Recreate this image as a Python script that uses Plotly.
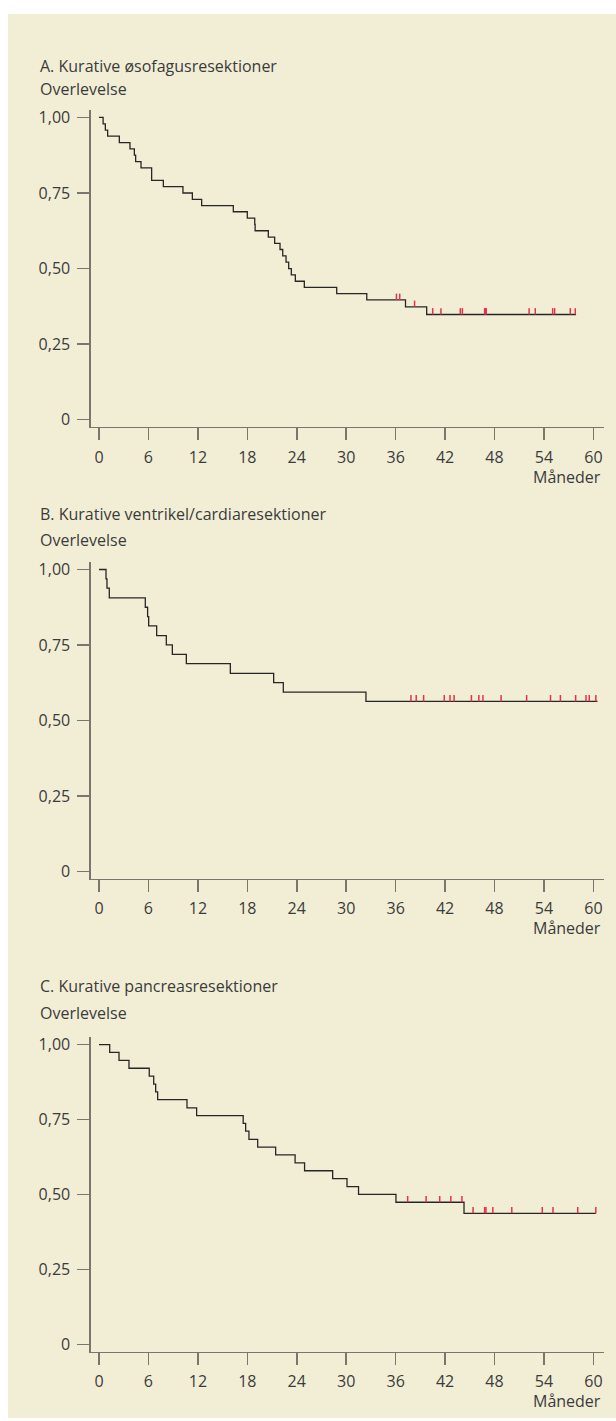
import numpy as np
import plotly.graph_objects as go

W, H = 616, 1421

titles = ["A. Kurative øsofagusresektioner",
          "B. Kurative ventrikel/cardiaresektioner",
          "C. Kurative pancreasresektioner"]
y_label = "Overlevelse"
x_label = "Måneder"
x_tickvals = [0, 6, 12, 18, 24, 30, 36, 42, 48, 54, 60]
y_tickvals = [0, 0.25, 0.5, 0.75, 1.0]
y_ticktext = ["0", "0,25", "0,50", "0,75", "1,00"]

# Panel A
a_time = [0, 0.5, 0.77, 1.05, 2.47, 3.76, 4.29, 4.45, 5.10, 6.39, 7.81, 10.19, 11.33,
          12.46, 16.30, 18.0, 18.9, 18.95, 20.55, 21.32, 21.97, 22.3, 22.7, 23.02, 23.34,
          23.83, 24.92, 28.85, 32.5, 37.2, 39.77, 57.9]
a_surv = [1.0, 0.979, 0.958, 0.938, 0.917, 0.896, 0.875, 0.854, 0.833, 0.792, 0.771, 0.75,
          0.729, 0.708, 0.688, 0.667, 0.646, 0.625, 0.604, 0.583, 0.563, 0.542, 0.521, 0.5,
          0.479, 0.458, 0.438, 0.417, 0.396, 0.373, 0.348, 0.348]
a_cens = [36.1, 36.5, 38.3, 40.5, 41.5, 43.85, 44.1, 46.8, 46.9, 47.0, 52.2, 52.95,
          55.06, 55.3, 57.2, 57.8]

# Panel B
b_time = [0, 0.85, 0.97, 1.25, 5.62, 5.9, 6.03, 7.0, 8.17, 8.9, 10.6, 15.94, 21.2,
          22.37, 32.4, 60.5]
b_surv = [1.0, 0.969, 0.938, 0.906, 0.875, 0.844, 0.813, 0.781, 0.75, 0.719, 0.688,
          0.656, 0.625, 0.594, 0.563, 0.563]
b_cens = [37.86, 38.5, 39.4, 41.9, 42.6, 43.1, 45.2, 46.1, 46.6, 48.8, 51.9, 54.8, 56.0,
          57.85, 59.1, 59.5, 60.3]

# Panel C
c_time = [0, 1.3, 2.43, 3.64, 6.1, 6.64, 6.88, 7.12, 10.68, 11.85, 17.5, 17.8, 18.2,
          19.26, 21.44, 23.8, 24.95, 28.36, 30.1, 31.5, 36.04, 44.3, 60.3]
c_surv = [1.0, 0.974, 0.947, 0.921, 0.895, 0.868, 0.842, 0.816, 0.789, 0.763, 0.737,
          0.711, 0.684, 0.658, 0.632, 0.605, 0.579, 0.553, 0.526, 0.5, 0.474, 0.437, 0.437]
c_cens = [37.46, 39.7, 41.35, 42.7, 44.05, 45.4, 46.8, 46.96, 47.8, 50.1, 53.8, 55.1,
          58.1, 60.3]

panels = [(a_time, a_surv, a_cens), (b_time, b_surv, b_cens), (c_time, c_surv, c_cens)]

# layout geometry (pixels)
zero_px = [417.7, 871.7, 1347.0]
unit_px = [303.7, 303.4, 301.3]
title_px = [62, 513, 987]
ylab_px = [85, 539, 1014]
YMIN, YMAX = -0.024, 1.024
XMIN, XMAX = -0.97, 61.29
X0_PX, X1_PX = 91, 604
TEXT_X_PX = 38

FONT = "Open Sans"
TXT = "#3b3b3b"
AXC = "#77776e"
LINEC = "#262626"
RED = "#e8304a"
BG = "#f2eed6"
TICK_H = 0.021


def px_x(p):
    return p / W


def px_y(p):
    return 1 - p / H


fig = go.Figure()
annotations = []

for i, (t, s, cens) in enumerate(panels):
    n = i + 1
    xa = "x" if n == 1 else f"x{n}"
    ya = "y" if n == 1 else f"y{n}"
    fig.add_trace(go.Scatter(x=t, y=s, mode="lines", line=dict(color=LINEC, width=1.3, shape="hv"),
                             xaxis=xa, yaxis=ya, showlegend=False, hoverinfo="skip"))
    t_arr = np.array(t)
    s_arr = np.array(s)
    cx, cy = [], []
    for c in cens:
        k = np.searchsorted(t_arr, c, side="right") - 1
        lvl = s_arr[max(k, 0)]
        cx += [c, c, None]
        cy += [lvl, lvl + TICK_H, None]
    fig.add_trace(go.Scatter(x=cx, y=cy, mode="lines", line=dict(color=RED, width=1.5),
                             xaxis=xa, yaxis=ya, showlegend=False, hoverinfo="skip"))

    z, u = zero_px[i], unit_px[i]
    bot_px = z - YMIN * u
    top_px = z - YMAX * u
    xkey = "xaxis" if n == 1 else f"xaxis{n}"
    ykey = "yaxis" if n == 1 else f"yaxis{n}"
    fig.update_layout(**{
        xkey: dict(domain=[px_x(X0_PX), px_x(X1_PX)], range=[XMIN, XMAX], anchor=ya,
                   showline=True, linecolor=AXC, linewidth=1.6, showgrid=False, zeroline=False,
                   ticks="outside", ticklen=12, tickwidth=1.6, tickcolor=AXC,
                   tickvals=x_tickvals, ticktext=[str(v) for v in x_tickvals],
                   ticklabelstandoff=3,
                   tickfont=dict(family=FONT, size=16, color=TXT), fixedrange=True),
        ykey: dict(domain=[px_y(bot_px), px_y(top_px)], range=[YMIN, YMAX], anchor=xa,
                   showline=True, linecolor=AXC, linewidth=1.6, showgrid=False, zeroline=False,
                   ticks="outside", ticklen=12, tickwidth=1.6, tickcolor=AXC,
                   tickvals=y_tickvals, ticktext=y_ticktext, ticklabelstandoff=4,
                   tickfont=dict(family=FONT, size=16, color=TXT), fixedrange=True),
    })
    annotations.append(dict(text=titles[i], x=px_x(TEXT_X_PX), y=px_y(title_px[i]),
                            xref="paper", yref="paper", xanchor="left", yanchor="middle",
                            showarrow=False, font=dict(family=FONT, size=16, color=TXT)))
    annotations.append(dict(text=y_label, x=px_x(TEXT_X_PX), y=px_y(ylab_px[i]),
                            xref="paper", yref="paper", xanchor="left", yanchor="middle",
                            showarrow=False, font=dict(family=FONT, size=16, color=TXT)))
    annotations.append(dict(text=x_label, x=px_x(603), y=px_y(bot_px + 50),
                            xref="paper", yref="paper", xanchor="right", yanchor="middle",
                            showarrow=False, font=dict(family=FONT, size=16, color=TXT)))

fig.update_layout(
    width=W, height=H, margin=dict(l=0, r=0, t=0, b=0),
    paper_bgcolor="white", plot_bgcolor="rgba(0,0,0,0)",
    annotations=annotations,
    shapes=[dict(type="rect", xref="paper", yref="paper", x0=px_x(8), x1=1,
                 y0=0, y1=px_y(10), fillcolor=BG, line=dict(width=0), layer="below")],
)

fig.write_html("out.html", config={"displayModeBar": False, "staticPlot": True},
               post_script="document.body.style.margin='0';document.body.style.padding='0';"
                           "document.documentElement.style.overflow='hidden';")
